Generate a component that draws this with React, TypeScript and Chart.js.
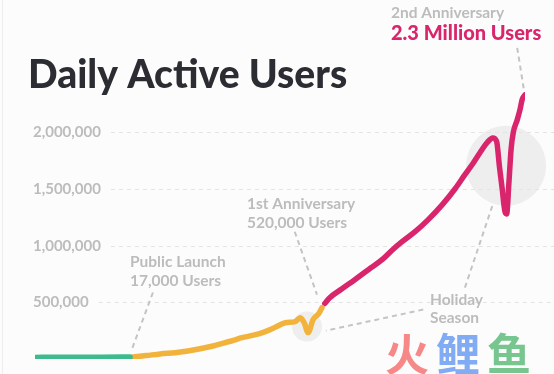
import React, { useEffect, useRef } from "react";
import { Chart, registerables } from "chart.js";

Chart.register(...registerables);

// ---- data (day index since start, daily active users) ----
const betaDays = [0, 40, 80, 120, 171];
const betaUsers = [14000, 15000, 15000, 16000, 17000];

const year1Days = [176, 200, 225, 252, 275, 297, 320, 342, 357, 372, 393, 414, 432, 450, 468, 477, 484, 491, 500, 510, 516];
const year1Users = [17000, 30000, 45000, 56000, 70000, 90000, 115000, 145000, 165000, 189000, 210000, 242000, 280000, 320000, 330000, 365000, 320000, 233000, 347000, 400000, 453000];

const year2Days = [521, 530, 552, 575, 600, 624, 642, 660, 685, 707, 732, 755, 772, 788, 800, 813, 823, 830, 835, 840, 845, 848, 852, 856, 860, 867, 872, 876, 881];
const year2Users = [490000, 541000, 620000, 700000, 790000, 876000, 960000, 1035000, 1130000, 1230000, 1360000, 1500000, 1620000, 1730000, 1820000, 1910000, 1950000, 1920000, 1700000, 1500000, 1300000, 1280000, 1550000, 1850000, 2000000, 2110000, 2200000, 2290000, 2330000];

const yTicks = [500000, 1000000, 1500000, 2000000];

const titleText = "Daily Active Users";

// highlight circles, anchored in data coordinates
const highlights = [
  { day: 489, users: 286000, r: 15 },
  { day: 847, users: 1705000, r: 40 },
];

// callout leader lines, anchored in data coordinates
const callouts = [
  { from: [212, 587000], to: [174, 83000] },
  { from: [467, 1123000], to: [507, 568000] },
  { from: [698, 436000], to: [523, 250000] },
  { from: [773, 630000], to: [823, 1362000] },
  { from: [867, 2746000], to: [879, 2376000] },
];

const GREEN = "#3dbb8d";
const ORANGE = "#f2b33d";
const MAGENTA = "#d9256c";
const GREY_TEXT = "#bcbcbc";
const FONT = "Lato, 'Open Sans', sans-serif";

const toPts = (xs: number[], ys: number[]) => xs.map((x, i) => ({ x, y: ys[i] }));

const decoPlugin = {
  id: "deco",
  beforeDatasetsDraw(chart: any) {
    const { ctx, scales } = chart;
    const xs = scales.x;
    const ys = scales.y;
    ctx.save();
    // faint left border
    ctx.strokeStyle = "#eeeeee";
    ctx.lineWidth = 1;
    ctx.beginPath();
    ctx.moveTo(2.5, 0);
    ctx.lineTo(2.5, chart.height);
    ctx.stroke();
    // grid lines and tick labels
    ctx.font = `bold 15px ${FONT}`;
    ctx.textBaseline = "middle";
    ctx.textAlign = "left";
    yTicks.forEach((v) => {
      const y = Math.round(ys.getPixelForValue(v)) + 0.5;
      const label = v.toLocaleString("en-US");
      ctx.fillStyle = GREY_TEXT;
      ctx.fillText(label, 33, y);
      const w = ctx.measureText(label).width;
      ctx.strokeStyle = "#e3e3e3";
      ctx.lineWidth = 1;
      ctx.setLineDash([4, 4]);
      ctx.beginPath();
      ctx.moveTo(33 + w + 10, y);
      ctx.lineTo(chart.width, y);
      ctx.stroke();
    });
    ctx.setLineDash([]);
    // highlight circles
    highlights.forEach((h) => {
      ctx.fillStyle = "rgba(228,228,228,0.6)";
      ctx.beginPath();
      ctx.arc(xs.getPixelForValue(h.day), ys.getPixelForValue(h.users), h.r, 0, Math.PI * 2);
      ctx.fill();
    });
    // callout lines
    ctx.strokeStyle = "#c4c4c4";
    ctx.lineWidth = 2;
    ctx.setLineDash([5, 4]);
    callouts.forEach((c) => {
      ctx.beginPath();
      ctx.moveTo(xs.getPixelForValue(c.from[0]), ys.getPixelForValue(c.from[1]));
      ctx.lineTo(xs.getPixelForValue(c.to[0]), ys.getPixelForValue(c.to[1]));
      ctx.stroke();
    });
    ctx.restore();
  },
  afterDraw(chart: any) {
    const { ctx } = chart;
    ctx.save();
    ctx.textAlign = "left";
    ctx.textBaseline = "alphabetic";
    // title
    ctx.fillStyle = "#2b2d33";
    ctx.font = `900 39px ${FONT}`;
    ctx.fillText(titleText, 28, 88);
    // annotations
    ctx.font = `bold 15.5px ${FONT}`;
    ctx.fillStyle = GREY_TEXT;
    ctx.fillText("Public Launch", 130, 267);
    ctx.fillText("17,000 Users", 130, 286);
    ctx.fillText("1st Anniversary", 247, 209);
    ctx.fillText("520,000 Users", 247, 228);
    ctx.fillText("Holiday", 430, 305);
    ctx.fillText("Season", 430, 323);
    ctx.fillText("2nd Anniversary", 391, 18);
    ctx.font = `900 20px ${FONT}`;
    ctx.fillStyle = MAGENTA;
    ctx.fillText("2.3 Million Users", 391, 40);
    // watermark
    ctx.font = `bold 44px 'Noto Sans CJK SC', sans-serif`;
    ctx.globalAlpha = 0.85;
    ctx.fillStyle = "#f57373";
    ctx.fillText("火", 385, 371);
    ctx.fillStyle = "#6b9cf0";
    ctx.fillText("鲤", 436, 371);
    ctx.fillStyle = "#5fbc7c";
    ctx.fillText("鱼", 487, 371);
    ctx.restore();
  },
};

export default function App() {
  const ref = useRef<HTMLCanvasElement>(null);
  useEffect(() => {
    document.body.style.margin = "0";
    document.body.style.background = "#fcfcfc";
    const common = {
      borderWidth: 5.5,
      pointRadius: 0,
      borderCapStyle: "round",
      borderJoinStyle: "round",
      cubicInterpolationMode: "monotone",
      fill: false,
    };
    const chart = new Chart(ref.current!, {
      type: "line",
      data: {
        datasets: [
          { ...common, data: toPts(betaDays, betaUsers), borderColor: GREEN },
          { ...common, data: toPts(year1Days, year1Users), borderColor: ORANGE },
          { ...common, data: toPts(year2Days, year2Users), borderColor: MAGENTA },
        ] as any,
      },
      options: {
        responsive: false,
        animation: false,
        layout: { padding: { left: 35, right: 29, top: 53, bottom: 15 } },
        plugins: { legend: { display: false }, tooltip: { enabled: false }, title: { display: false } },
        scales: {
          x: { type: "linear", min: 0, max: 881, display: false },
          y: { type: "linear", min: 0, max: 2700000, display: false },
        },
      },
      plugins: [decoPlugin],
    });
    return () => chart.destroy();
  }, []);
  return <canvas ref={ref} width={554} height={374} style={{ display: "block" }} />;
}
